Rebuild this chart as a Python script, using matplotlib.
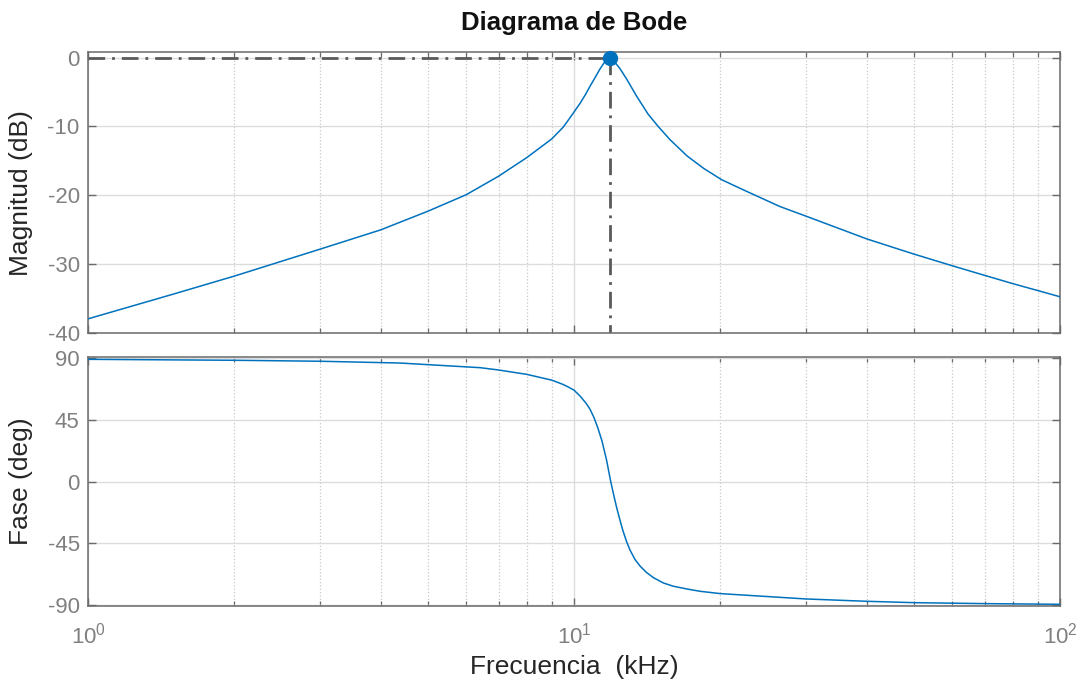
import matplotlib
matplotlib.use('Agg')
import matplotlib.pyplot as plt
from matplotlib.ticker import LogLocator, NullFormatter, FixedLocator

plt.rcParams['font.family'] = ['Liberation Sans', 'DejaVu Sans']
plt.rcParams['mathtext.fontset'] = 'custom'
plt.rcParams['mathtext.rm'] = 'Liberation Sans'
plt.rcParams['axes.unicode_minus'] = False

# magnitude curve (kHz, dB)
mag_freq = [1.0, 1.5, 2.0, 3.0, 4.0, 5.0, 6.0, 7.0, 8.0, 9.0, 9.5, 9.75, 10.0,
            10.3, 10.55, 10.8, 11.05, 11.3, 11.6, 11.86, 12.1, 12.4, 12.8, 13.45,
            14.2, 14.9, 15.75, 17.1, 18.5, 20.1, 22.0, 23.8, 26.5, 30.0, 40.0,
            50.0, 60.0, 70.0, 80.0, 90.0, 100.0]
mag_db = [-37.9, -34.3, -31.7, -27.8, -25.0, -22.3, -19.9, -17.2, -14.5, -11.8,
          -10.1, -9.0, -7.9, -6.6, -5.4, -4.1, -2.9, -1.7, -0.5, 0.0, -0.6,
          -1.5, -3.0, -5.6, -8.2, -10.0, -11.9, -14.3, -16.1, -17.7, -19.0,
          -20.1, -21.6, -23.0, -26.3, -28.5, -30.2, -31.6, -32.8, -33.8, -34.7]

# phase curve (kHz, deg)
ph_freq = [1.0, 2.0, 3.0, 4.38, 6.41, 7.0, 8.0, 9.0, 9.49, 9.72, 10.0, 10.29,
           10.6, 10.79, 11.0, 11.2, 11.42, 11.67, 11.9, 12.1, 12.24, 12.43,
           12.6, 12.82, 13.04, 13.35, 13.68, 14.1, 14.56, 15.26, 16.0, 17.06,
           18.16, 20.0, 30.0, 40.0, 50.0, 70.0, 100.0]
ph_deg = [89.3, 88.6, 87.9, 86.6, 83.2, 81.5, 78.3, 74.1, 71.0, 69.2, 66.8,
          62.5, 57.0, 52.8, 46.5, 39.0, 29.5, 15.5, 0.0, -11.5, -19.0, -28.0,
          -35.5, -43.5, -50.0, -56.8, -61.7, -66.3, -70.0, -73.9, -76.3, -78.3,
          -80.0, -81.7, -85.6, -87.3, -88.3, -89.0, -89.5]

peak_freq = 11.86
peak_db = 0.0

mag_ticks = [0, -10, -20, -30, -40]
ph_ticks = [90, 45, 0, -45, -90]
x_ticks = [1, 10, 100]
x_ticklabels = [r'$\mathregular{10^{0}}$', r'$\mathregular{10^{1}}$', r'$\mathregular{10^{2}}$']

blue = '#0072BD'
tick_gray = '#808080'
spine_gray = '#6a6a6a'

fig = plt.figure(figsize=(10.84, 6.86), dpi=100)
ax1 = fig.add_axes([0.0812, 0.5141, 0.8967, 0.4101])
ax2 = fig.add_axes([0.0812, 0.1171, 0.8967, 0.3629])

for ax in (ax1, ax2):
    ax.set_xscale('log')
    ax.set_xlim(1, 100)
    ax.xaxis.set_major_locator(FixedLocator(x_ticks))
    ax.xaxis.set_minor_locator(LogLocator(base=10, subs=range(2, 10)))
    ax.xaxis.set_minor_formatter(NullFormatter())
    ax.grid(True, which='major', color='#dcdcdc', linewidth=1.0, linestyle='-')
    ax.grid(True, which='minor', axis='x', color='#c8c8c8', linewidth=0.9, linestyle=':')
    ax.set_axisbelow(True)
    ax.tick_params(which='both', direction='in', top=True, right=True,
                   color=spine_gray, labelcolor=tick_gray, labelsize=16)
    ax.tick_params(which='major', length=5.5, width=1)
    ax.tick_params(which='minor', length=3.5, width=0.9)
    ax.tick_params(axis='y', pad=6)
    for s in ax.spines.values():
        s.set_color(spine_gray)
        s.set_linewidth(1.1)

# magnitude
ax1.plot(mag_freq, mag_db, color=blue, linewidth=1.1, zorder=3)
ax1.plot([1, peak_freq], [peak_db, peak_db], color='#5a5a5a', linewidth=2,
         linestyle=(0, (6, 2.5, 1, 2.5)), zorder=2)
ax1.plot([peak_freq, peak_freq], [peak_db, -45], color='#5a5a5a', linewidth=2,
         linestyle=(0, (6, 2.5, 1, 2.5)), zorder=2)
ax1.plot([peak_freq], [peak_db], 'o', color=blue, markersize=10, zorder=4, clip_on=False)
ax1.set_ylim(-39.9, 0.8)
ax1.set_yticks(mag_ticks)
ax1.set_xticklabels([])
ax1.set_ylabel('Magnitud (dB)', fontsize=19, color='#262626')
ax1.yaxis.set_label_coords(-0.057, 0.5)
ax1.text(0.5, 1.078, 'Diagrama de Bode', transform=ax1.transAxes, ha='center',
         va='baseline', fontsize=18.5, fontweight='bold', color='#111111')

# phase
ax2.plot(ph_freq, ph_deg, color=blue, linewidth=1.1, zorder=3)
ax2.set_ylim(-90.5, 91.2)
ax2.set_yticks(ph_ticks)
ax2.set_xticklabels(x_ticklabels)
ax2.tick_params(axis='x', which='major', pad=12)
ax2.set_ylabel('Fase (deg)', fontsize=19, color='#262626')
ax2.yaxis.set_label_coords(-0.057, 0.5)
ax2.set_xlabel('Frecuencia  (kHz)', fontsize=19, color='#262626')
ax2.xaxis.set_label_coords(0.5, -0.2)

fig.savefig('out.png', dpi=100, facecolor='white')
